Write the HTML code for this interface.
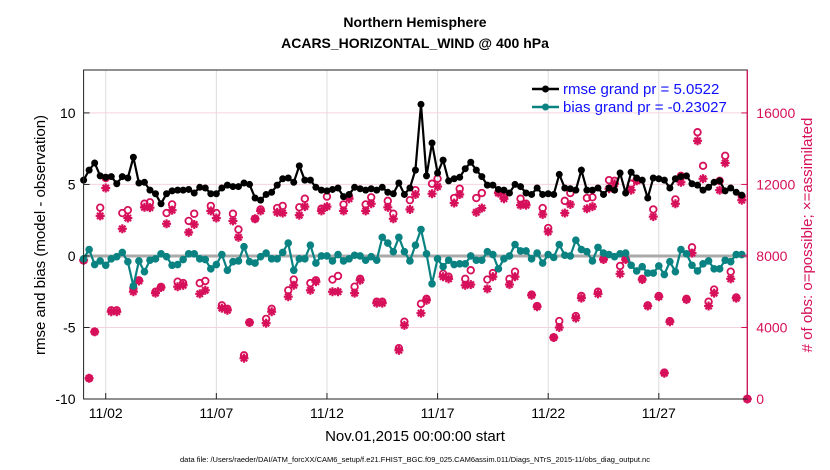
<!DOCTYPE html>
<html><head><meta charset="utf-8"><style>
html,body{margin:0;padding:0;background:#fff;}
svg{display:block;font-family:"Liberation Sans",Arial,sans-serif;}
</style></head><body>
<svg id="chart" width="830" height="470" viewBox="0 0 830 470" xmlns="http://www.w3.org/2000/svg">
<text x="415" y="27" text-anchor="middle" font-size="14" font-weight="bold">Northern Hemisphere</text>
<text x="415" y="48" text-anchor="middle" font-size="14" font-weight="bold">ACARS_HORIZONTAL_WIND @ 400 hPa</text>
<g id="grid"></g>
<g id="marks"></g>
<g id="axes"></g>
<text transform="translate(45,235) rotate(-90)" text-anchor="middle" font-size="15">rmse and bias (model - observation)</text>
<text transform="translate(812,235) rotate(-90)" text-anchor="middle" font-size="15" fill="#d6105a"># of obs: o=possible; ×=assimilated</text>
<text x="415" y="441" text-anchor="middle" font-size="15">Nov.01,2015 00:00:00 start</text>
<text x="415" y="462" text-anchor="middle" font-size="7.5">data file: /Users/raeder/DAI/ATM_forcXX/CAM6_setup/f.e21.FHIST_BGC.f09_025.CAM6assim.011/Diags_NTrS_2015-11/obs_diag_output.nc</text>
<g id="legend"></g>
</svg>
<script>
const xTickLabels = ["11/02","11/07","11/12","11/17","11/22","11/27"];
const xTickDays = [1,6,11,16,21,26];
const leftTicks = [-10,-5,0,5,10];
const rightTicks = [0,4000,8000,12000,16000];
const rmse = [5.3,6.0,6.5,5.6,5.5,5.55,5.05,5.55,5.45,6.9,5.1,5.15,4.6,4.35,3.65,4.35,4.55,4.6,4.6,4.65,4.4,4.8,4.75,4.35,4.35,4.75,4.95,4.85,4.85,5.1,5.0,4.05,3.9,4.3,4.45,4.95,5.4,5.45,5.15,6.3,5.3,5.3,4.8,4.6,4.55,4.65,4.75,4.15,4.3,4.8,4.7,4.6,4.7,4.6,4.8,4.45,4.35,5.1,4.3,4.75,6.0,10.6,5.6,7.9,5.8,6.7,5.25,5.4,5.5,6.1,6.55,6.0,5.55,4.95,4.95,4.65,4.6,4.4,5.0,4.85,4.4,4.3,4.75,4.3,4.35,4.3,5.7,4.75,4.7,4.6,6.0,4.6,4.6,4.75,4.3,4.75,4.6,5.8,4.4,5.85,5.45,5.3,4.05,5.45,5.4,5.3,4.75,5.4,5.55,5.6,5.05,4.95,4.6,4.8,5.15,5.25,4.55,4.75,4.45,4.25];
const bias = [-0.2,0.45,-0.6,-0.35,-0.65,-0.2,-0.05,0.25,-0.4,-2.1,-0.35,-1.1,-0.3,-0.2,0.15,-0.05,-0.65,-0.6,-0.25,0.15,0.15,-0.2,-0.25,-0.9,-0.6,0.1,-1.0,-0.4,-0.35,0.65,-0.4,-0.5,-0.05,0.2,-0.2,-0.2,0.25,0.9,-1.0,-0.2,-0.2,0.75,-0.5,0,0,-0.35,0.1,-0.35,-0.2,0.05,0,-0.3,-0.05,-0.3,1.3,0.9,0.3,1.3,0.3,-0.35,0.75,1.85,0.15,-1.95,-0.2,-0.75,-0.3,-0.6,-0.55,-0.55,0,-0.3,-0.3,0.3,0.1,-0.9,-0.2,0,0.8,0.35,0.35,-0.2,0.2,-0.5,0.1,-0.1,0.8,0.05,0,1.1,0.45,0.3,-0.35,0.6,0.2,0.1,-0.05,0.15,0.2,-0.65,-1.05,-0.75,-1.2,-1.2,-0.7,-1.3,-0.4,-1.1,0.45,0.15,-0.65,-1.05,-0.55,-0.35,-0.9,-0.9,-0.3,-0.4,0.1,0.1];
const obsPossible = [7760,1160,3760,10700,12360,4960,4960,10400,10560,6180,6640,10920,11000,6000,6270,10400,10880,6560,6480,9960,10360,6480,6600,10800,10400,5240,5040,10360,9480,2440,4280,10080,10600,4480,5040,10680,10800,6080,6680,10720,11200,6480,6640,10640,11320,6680,6880,10880,11320,6280,6720,10880,11280,5440,5440,11080,10360,2840,4320,11120,11680,5320,5600,12040,12320,7000,6840,11240,11760,6720,7200,11240,11520,6680,7040,11560,11280,6720,7120,11200,10920,5840,5200,10680,9560,3440,4360,11080,11520,4640,5760,11240,11280,6000,7840,12240,12200,7440,7840,12040,12240,6720,5240,10600,5760,1480,4360,11160,12480,5600,8480,14920,13040,5440,6120,12200,13600,7120,5680,11320,0];
const obsAssim = [7760,1160,3760,10240,11800,4880,4880,9520,10120,6000,6600,10720,10700,5920,6240,9800,10560,6280,6360,9320,9760,5880,6080,10520,10120,5080,4960,9960,9040,2280,4280,10080,10520,4240,4880,10440,10400,5720,6360,10280,10760,6080,6560,10520,10760,6000,6000,10520,11200,5920,6640,10520,10920,5360,5360,10720,10080,2720,4120,10600,11440,4800,5520,11480,11880,6840,6720,10960,11440,6360,6400,10440,10680,6160,6840,11520,11200,6400,6840,10840,10840,5800,5160,10320,9360,3440,4000,10400,10880,4520,5640,10640,10760,5880,7800,11760,12040,7000,7800,11680,12200,6680,5200,10200,5720,1440,4320,10920,12120,5560,8160,14440,12320,5200,5920,11680,13200,6720,5640,11120,0];

const NS="http://www.w3.org/2000/svg";
const X0=83.6,X1=747.3,Y0=399,Y1=70;
const crim="#d6105a", teal="#0a8282";
function xs(d){return X0+(d-0)/(30-0)*(X1-X0);}
function yl(v){return Y0+(v-(-10))/(13-(-10))*(Y1-Y0);}
function yr(o){return Y0+(o-0)/(18400-0)*(Y1-Y0);}
function tday(i){return i*0.25;}
function mk(tag,attrs,parent){const e=document.createElementNS(NS,tag);for(const k in attrs)e.setAttribute(k,attrs[k]);parent.appendChild(e);return e;}
const grid=document.getElementById('grid'),marks=document.getElementById('marks'),axes=document.getElementById('axes'),legend=document.getElementById('legend');

xTickDays.forEach((d,i)=>{
  const gl=mk('line',{x1:xs(d),x2:xs(d),y1:Y1,y2:Y0,stroke:'#dcdcdc','stroke-width':1},grid);
  
  
  const tk=mk('line',{x1:xs(d),x2:xs(d),y1:Y0,y2:Y0-6,stroke:'#222','stroke-width':1},axes);
  
  
  const t=mk('text',{x:xs(d),y:Y0+19,'text-anchor':'middle','font-size':14},axes);
  t.textContent=xTickLabels[i];
  
  
});
leftTicks.forEach(v=>{
  const gl=mk('line',{x1:X0,x2:X1,y1:yl(v),y2:yl(v),stroke:'#f6d3df','stroke-width':1},grid);
  
  
  const tk=mk('line',{x1:X0,x2:X0+6,y1:yl(v),y2:yl(v),stroke:'#222'},axes);
  
  
  const t=mk('text',{x:X0-8,y:yl(v)+5,'text-anchor':'end','font-size':14},axes);
  t.textContent=String(v);
  
  
});
rightTicks.forEach(o=>{
  const tk=mk('line',{x1:X1-6,x2:X1,y1:yr(o),y2:yr(o),stroke:crim},axes);
  
  
  const t=mk('text',{x:X1+9,y:yr(o)+5,'font-size':14,fill:crim},axes);
  t.textContent=String(o);
  
  
});
const zl=mk('line',{x1:X0,x2:X1,y1:yl(0),y2:yl(0),stroke:'#aaaaaa','stroke-width':3},grid);



function star(cx,cy,parent){
  const g=mk('g',{stroke:crim,'stroke-width':2.2},parent);
  const r=4.5;
  mk('line',{x1:cx-r,x2:cx+r,y1:cy,y2:cy},g);
  mk('line',{x1:cx,x2:cx,y1:cy-r,y2:cy+r},g);
  mk('line',{x1:cx-r*0.7,x2:cx+r*0.7,y1:cy-r*0.7,y2:cy+r*0.7},g);
  mk('line',{x1:cx-r*0.7,x2:cx+r*0.7,y1:cy+r*0.7,y2:cy-r*0.7},g);
  return g;
}
obsPossible.forEach((o,i)=>{
  const c=mk('circle',{cx:xs(tday(i)),cy:yr(o),r:3.3,fill:'none',stroke:crim,'stroke-width':1.8},marks);
  
  
});
obsAssim.forEach((o,i)=>{
  const s=star(xs(tday(i)),yr(o),marks);
  
  
});
function series(vals,color,name,r){
  const pts=vals.map((v,i)=>xs(tday(i)).toFixed(1)+','+yl(v).toFixed(1)).join(' ');
  const pl=mk('polyline',{points:pts,fill:'none',stroke:color,'stroke-width':2.2},marks);
  
  
  vals.forEach((v,i)=>{
    const c=mk('circle',{cx:xs(tday(i)),cy:yl(v),r:r,fill:color},marks);
    
    
  });
}
series(bias,teal,'bias',3.8);
series(rmse,'#000','rmse',3.5);

const fr=mk('rect',{x:X0,y:Y1,width:X1-X0,height:Y0-Y1,fill:'none',stroke:'#222','stroke-width':1},axes);


const ra=mk('line',{x1:X1,x2:X1,y1:Y1,y2:Y0,stroke:crim,'stroke-width':1.2},axes);



[[ 'rmse grand pr = 5.0522','#000',89,'legend-rmse'],['bias grand pr = -0.23027',teal,107,'legend-bias']].forEach(e=>{
  const g=mk('g',{},legend);
  
  
  mk('line',{x1:532,x2:559,y1:e[2],y2:e[2],stroke:e[1],'stroke-width':2.5},g);
  mk('circle',{cx:545.5,cy:e[2],r:3.5,fill:e[1]},g);
  const t=mk('text',{x:563,y:e[2]+5,'font-size':15,fill:'#1010ff'},g);
  t.textContent=e[0];
});
</script>
</body></html>
